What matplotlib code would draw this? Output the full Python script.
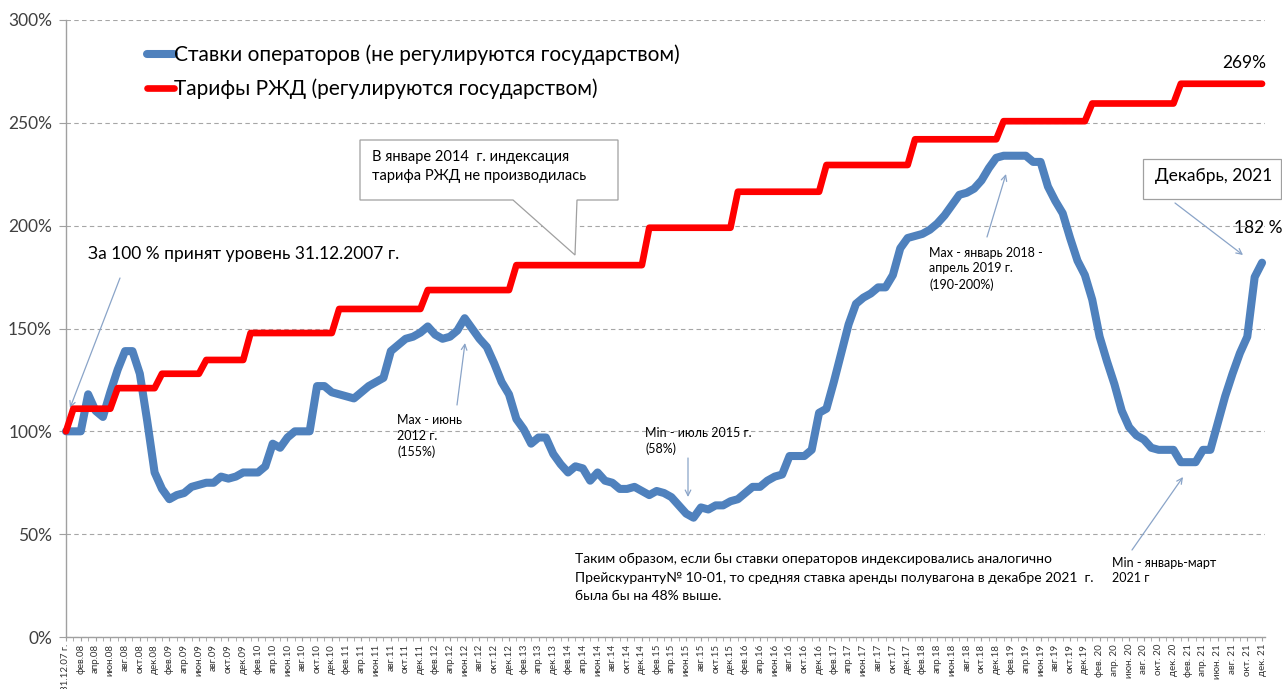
import numpy as np
import pandas as pd
import matplotlib
matplotlib.use('Agg')
import matplotlib.pyplot as plt
from matplotlib.patches import Polygon, Rectangle
from matplotlib.ticker import FuncFormatter

plt.rcParams['font.family'] = ['Lato', 'DejaVu Sans']

# Категории оси X (месяцы), в 2013 г. часть месяцев в данных отсутствует
MONTHS = ['янв', 'фев', 'мар', 'апр', 'май', 'июн', 'июл', 'авг', 'сен', 'окт', 'ноя', 'дек']
SKIP = {'май.13', 'июн.13', 'июл.13', 'сен.13', 'окт.13', 'ноя.13'}
categories = ['31.12.07 г.']
for y in range(8, 22):
    for m in MONTHS:
        lab = f'{m}.{y:02d}'
        if lab in SKIP:
            continue
        if y >= 20:
            lab = f'{m}. {y:02d}'
        categories.append(lab)

# Ставки операторов, % к 31.12.2007
operators = [
    100, 100, 100, 118, 110, 107, 119, 130, 139, 139,
    128, 105, 80, 72, 67, 69, 70, 73, 74, 75,
    75, 78, 77, 78, 80, 80, 80, 83, 94, 92,
    97, 100, 100, 100, 122, 122, 119, 118, 117, 116,
    119, 122, 124, 126, 139, 142, 145, 146, 148, 151,
    147, 145, 146, 149, 155, 150, 145, 141, 133, 124,
    118, 106, 101, 94, 97, 97, 89, 84, 80, 83,
    82, 76, 80, 76, 75, 72, 72, 73, 71, 69,
    71, 70, 68, 64, 60, 58, 63, 62, 64, 64,
    66, 67, 70, 73, 73, 76, 78, 79, 88, 88,
    88, 91, 109, 111, 124, 138, 152, 162, 165, 167,
    170, 170, 176, 189, 194, 195, 196, 198, 201, 205,
    210, 215, 216, 218, 222, 228, 233, 234, 234, 234,
    234, 231, 231, 219, 212, 206, 194, 183, 176, 164,
    146, 134, 123, 110, 102, 98, 96, 92, 91, 91,
    91, 85, 85, 85, 91, 91, 104, 117, 128, 138,
    146, 175, 182,
]

# Тарифы РЖД: уровень и месяц, с которого он действует
tariff_start = ['31.12.07 г.', 'янв.08', 'июл.08', 'янв.09', 'июл.09', 'янв.10', 'янв.11',
                'янв.12', 'янв.13', 'янв.15', 'янв.16', 'янв.17', 'янв.18', 'янв.19',
                'янв. 20', 'янв. 21']
tariff_level = [100, 111, 121, 128, 134.7, 147.8, 159.5, 168.7, 180.8, 199, 216.5,
                229.5, 242, 250.8, 259.4, 269]

rzd = pd.Series(np.nan, index=categories)
rzd[tariff_start] = tariff_level
rzd = rzd.ffill().values

W, H = 1282, 689


def fp(x, y):
    # пиксели картинки -> доли фигуры
    return (x / W, 1 - y / H)


fig = plt.figure(figsize=(W / 100, H / 100), dpi=100)
ax = fig.add_axes([66 / W, 1 - 637 / H, (1265 - 66) / W, (637 - 20) / H])

x = np.arange(len(categories))
ax.plot(x, operators, color='#4F81BD', lw=5.8, solid_joinstyle='round', solid_capstyle='round',
        label='Ставки операторов (не регулируются государством)', zorder=3, clip_on=False)
ax.plot(x, rzd, color='#FF0000', lw=4.8, solid_joinstyle='round', solid_capstyle='round',
        label='Тарифы РЖД (регулируются государством)', zorder=4, clip_on=False)

ax.set_xlim(0, len(categories) - 0.6)
ax.set_ylim(0, 300)
ax.set_yticks(range(0, 301, 50))
ax.yaxis.set_major_formatter(FuncFormatter(lambda v, p: f'{v:.0f}%'))
ax.grid(axis='y', ls=(0, (4, 3)), color='#a6a6a6', lw=0.8)
ax.set_axisbelow(True)

ax.set_xticks(x[::2])
ax.set_xticklabels(categories[::2], rotation=90, fontsize=7, color='#333333')
ax.set_xticks(x, minor=True)
ax.tick_params(axis='x', which='both', length=3, color='#a0a0a0', pad=2)
ax.tick_params(axis='y', length=5, color='#a0a0a0', labelsize=12.5, labelcolor='#404040', pad=5)

for s in ['top', 'right']:
    ax.spines[s].set_visible(False)
for s in ['left', 'bottom']:
    ax.spines[s].set_color('#a0a0a0')
    ax.spines[s].set_linewidth(1.0)

leg = ax.legend(loc='upper left', bbox_to_anchor=fp(128, 26), bbox_transform=fig.transFigure,
                frameon=False, fontsize=15, handlelength=1.3, handletextpad=0.0, labelspacing=0.65)

arrow = dict(arrowstyle='->', color='#8aa4c8', lw=0.9, shrinkA=0, shrinkB=0)


def note(text, xy_text, xy_tip=None, xy_from=None, size=9, spacing=1.35):
    fig.text(*fp(*xy_text), text, fontsize=size, va='top', ha='left', linespacing=spacing)
    if xy_tip is not None:
        ax.annotate('', xy=fp(*xy_tip), xytext=fp(*xy_from), xycoords='figure fraction',
                    textcoords='figure fraction', arrowprops=arrow, annotation_clip=False)


note('За 100 % принят уровень 31.12.2007 г.', (88, 246), (70, 408), (120, 278), size=12.5)
note('Max - июнь\n2012 г.\n(155%)', (397, 414), (465, 343), (457, 405))
note('Min - июль 2015 г.\n(58%)', (645, 427), (688, 497), (688, 458))
note('Max - январь 2018 -\nапрель 2019 г.\n(190-200%)', (929, 247), (1006, 174), (987, 237))
note('Min - январь-март\n2021 г', (1112, 557), (1183, 477), (1132, 550))
note('Таким образом, если бы ставки операторов индексировались аналогично\n'
     'Прейскуранту№ 10-01, то средняя ставка аренды полувагона в декабре 2021  г.\n'
     'была бы на 48% выше.', (575, 553), size=10, spacing=1.65)

fig.text(*fp(1222, 55), '269%', fontsize=12.5, va='top', ha='left')
fig.text(*fp(1234, 220), '182 %', fontsize=12.5, va='top', ha='left')

# выноска про 2014 год
pts = [fp(360, 140), fp(618, 140), fp(618, 200), fp(577, 200), fp(575, 255), fp(513, 200), fp(360, 200)]
fig.patches.append(Polygon(pts, closed=True, transform=fig.transFigure, facecolor='white',
                           edgecolor='#a0a0a0', lw=0.9, zorder=5))
fig.text(*fp(372, 150), 'В январе 2014  г. индексация\nтарифа РЖД не производилась',
         fontsize=10.5, va='top', ha='left', linespacing=1.45, zorder=6)

# выноска Декабрь, 2021
x0, y0 = fp(1143, 199)
x1, y1 = fp(1281, 159)
fig.patches.append(Rectangle((x0, y0), x1 - x0, y1 - y0, transform=fig.transFigure,
                             facecolor='white', edgecolor='#a0a0a0', lw=0.9, zorder=5))
fig.text(*fp(1155, 168), 'Декабрь, 2021', fontsize=12.5, va='top', ha='left', zorder=6)
ax.annotate('', xy=fp(1243, 255), xytext=fp(1175, 203), xycoords='figure fraction',
            textcoords='figure fraction', arrowprops=arrow, annotation_clip=False)

fig.savefig('out.png', dpi=100)
